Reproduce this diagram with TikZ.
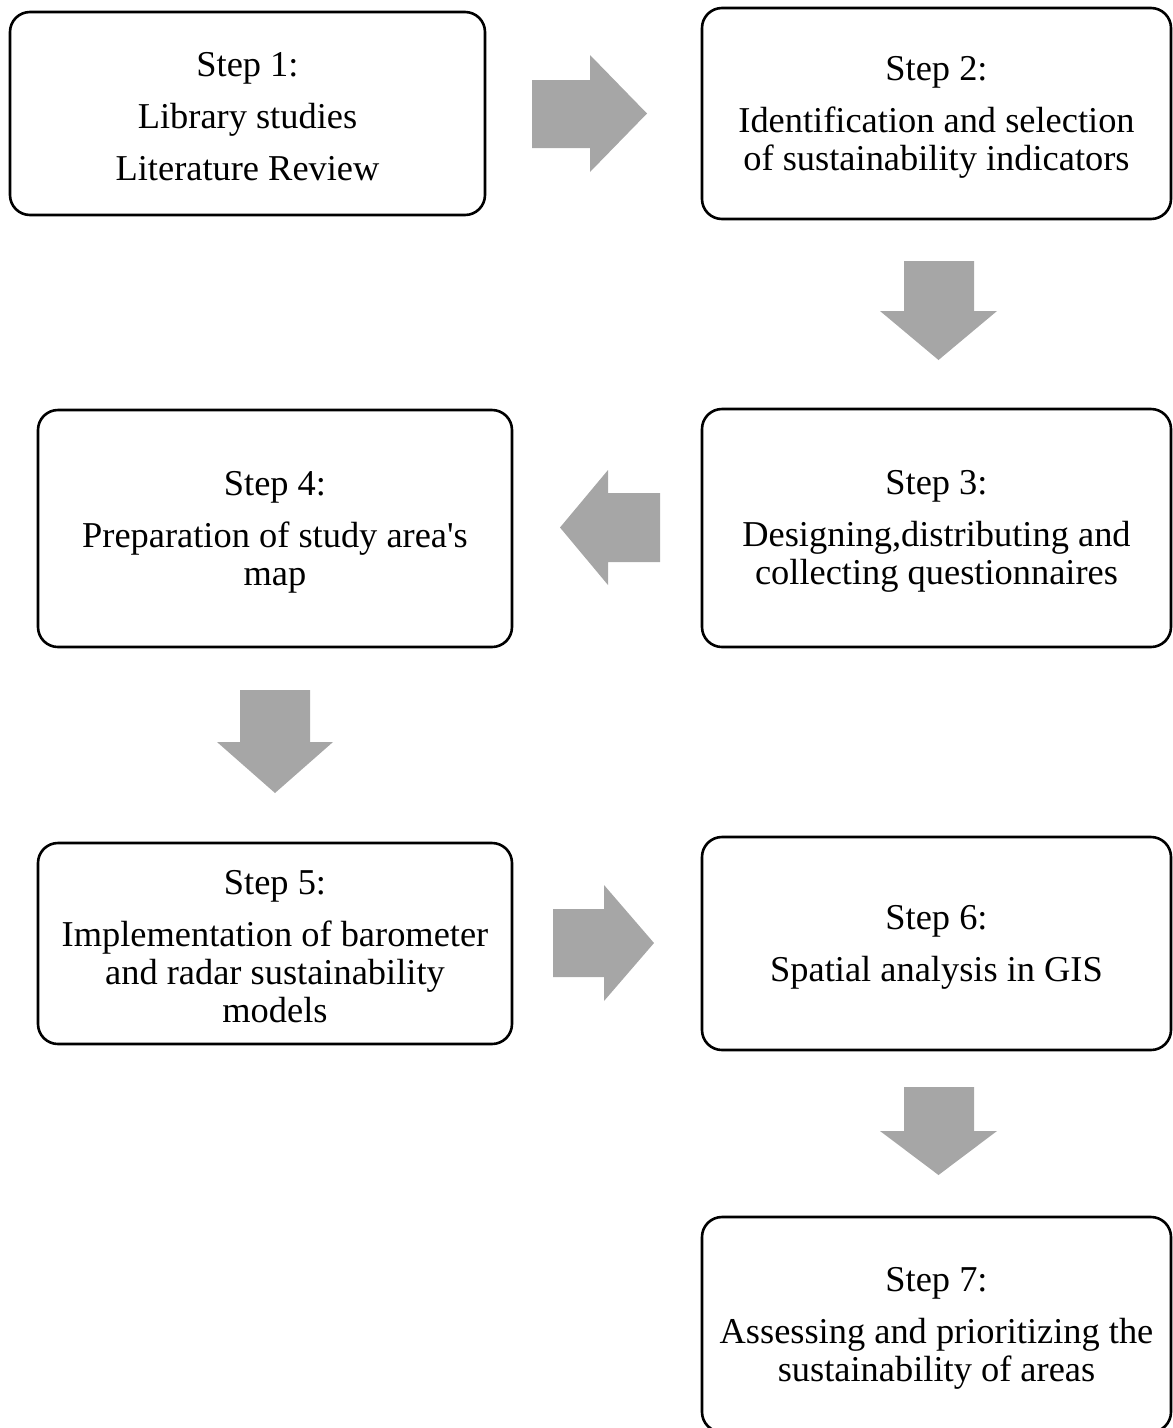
\documentclass[tikz,border=0pt]{standalone}
\usepackage{fontspec}
\setmainfont{Liberation Serif}
\newcommand{\toprule}{\rule{0pt}{31pt}}
\begin{document}
\begin{tikzpicture}[x=1pt,y=-1pt,
  stepbox/.style={draw=black, line width=2.6pt, rounded corners=20pt,
    fill=white, align=center, inner sep=0pt, outer sep=0pt,
    font=\fontsize{36.4}{38}\selectfont},
  blockarrow/.style={fill=black!35, draw=none}]
\useasboundingbox (0,0) rectangle (1173,1428);

% process steps
\node[stepbox, minimum width=475pt, minimum height=203pt] (s1) at (247.5,113.5)
  {\toprule Step 1:\\[14pt] Library studies\\[14pt] Literature Review};
\node[stepbox, minimum width=469pt, minimum height=211pt] (s2) at (936.5,113.5)
  {\toprule Step 2:\\[14pt] Identification and selection\\ of sustainability indicators};
\node[stepbox, minimum width=469pt, minimum height=238pt] (s3) at (936.5,528)
  {\toprule Step 3:\\[14pt] Designing,distributing and\\ collecting questionnaires};
\node[stepbox, minimum width=474pt, minimum height=237pt] (s4) at (275,528.5)
  {\toprule Step 4:\\[14pt] Preparation of study area\textquotesingle s\\ map};
\node[stepbox, minimum width=474pt, minimum height=201pt] (s5) at (275,943.5)
  {\toprule Step 5:\\[14pt] Implementation of barometer\\ and radar sustainability\\ models};
\node[stepbox, minimum width=469pt, minimum height=213pt] (s6) at (936.5,943.5)
  {\toprule Step 6:\\[14pt] Spatial analysis in GIS};
\node[stepbox, minimum width=469pt, minimum height=215pt] (s7) at (936.5,1324.5)
  {\toprule Step 7:\\[14pt] Assessing and prioritizing the\\ sustainability of areas};

% block arrows between the steps
% step 1 -> step 2
\fill[blockarrow] (532,80) -- (590,80) -- (590,55) -- (647,113.5) -- (590,172)
  -- (590,148) -- (532,148) -- cycle;
% step 2 -> step 3
\fill[blockarrow] (904,261) -- (974,261) -- (974,311) -- (997,311) -- (938.5,360)
  -- (880,311) -- (904,311) -- cycle;
% step 3 -> step 4
\fill[blockarrow] (660,493) -- (608,493) -- (608,470) -- (560,527.5) -- (608,585)
  -- (608,562) -- (660,562) -- cycle;
% step 4 -> step 5
\fill[blockarrow] (240,690) -- (310,690) -- (310,742) -- (333,742) -- (275,793)
  -- (217,742) -- (240,742) -- cycle;
% step 5 -> step 6
\fill[blockarrow] (553,909) -- (604,909) -- (604,885) -- (654,943) -- (604,1001)
  -- (604,977) -- (553,977) -- cycle;
% step 6 -> step 7
\fill[blockarrow] (904,1087) -- (974,1087) -- (974,1131) -- (997,1131) -- (938.5,1175)
  -- (880,1131) -- (904,1131) -- cycle;
\end{tikzpicture}
\end{document}
